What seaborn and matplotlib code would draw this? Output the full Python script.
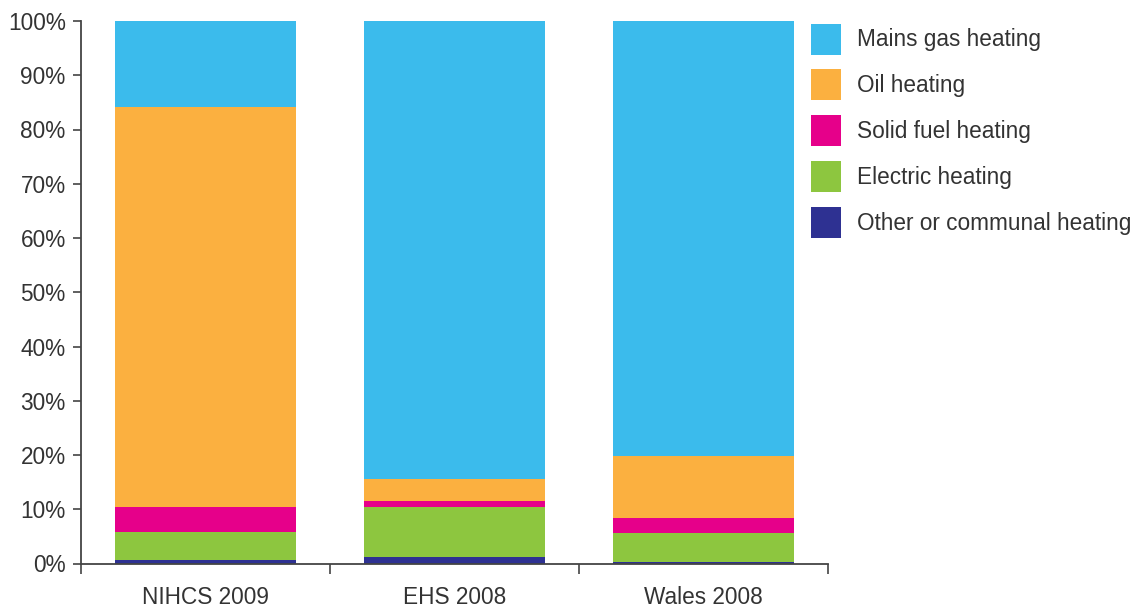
import numpy as np
import pandas as pd
import matplotlib
matplotlib.use("Agg")
import matplotlib.pyplot as plt
from matplotlib.patches import Patch
import seaborn as sns

surveys = ["NIHCS 2009", "EHS 2008", "Wales 2008"]
other = [0.65, 1.2, 0.3]
electric = [5.2, 9.2, 5.35]
solid_fuel = [4.6, 1.1, 2.8]
oil = [73.7, 4.1, 11.3]
mains_gas = [15.85, 84.4, 80.25]

series_names = ["Mains gas heating", "Oil heating", "Solid fuel heating",
                "Electric heating", "Other or communal heating"]
series_colors = ["#3BBBEC", "#FBB040", "#E6008A", "#8DC63F", "#2E3192"]

sns.set_theme(style="white")
plt.rcParams["font.family"] = ["Liberation Sans", "DejaVu Sans"]
text_color = "#333333"
fs = 16.3

# stack from the bottom up; draw tallest cumulative layer first
stack_bottom_up = [other, electric, solid_fuel, oil, mains_gas]
colors_bottom_up = series_colors[::-1]
cum = np.cumsum(np.array(stack_bottom_up), axis=0)

fig = plt.figure(figsize=(11.41, 6.14), dpi=100)
ax = fig.add_axes([81 / 1141, 1 - 563.5 / 614, (828 - 81) / 1141, (563.5 - 21) / 614])

for i in range(len(stack_bottom_up) - 1, -1, -1):
    df = pd.DataFrame({"survey": surveys, "value": cum[i]})
    sns.barplot(data=df, x="survey", y="value", color=colors_bottom_up[i],
                saturation=1, width=0.723, ax=ax, linewidth=0, errorbar=None)

ax.set_xlim(-0.5, 2.5)
ax.set_ylim(0, 100)
ax.set_xlabel("")
ax.set_ylabel("")
ax.set_yticks(np.arange(0, 101, 10))
ax.set_yticklabels([f"{v}%" for v in range(0, 101, 10)])
ax.set_xticks([-0.5, 0.5, 1.5, 2.5], minor=True)
ax.tick_params(axis="x", which="major", length=0, pad=16, labelsize=fs, colors=text_color)
ax.tick_params(axis="x", which="minor", length=7, width=1.2, color="#444444", direction="out", bottom=True)
ax.tick_params(axis="y", which="major", length=6, width=1.2, color="#444444", direction="out",
               left=True, pad=5, labelsize=fs, labelcolor=text_color)

for s in ["top", "right"]:
    ax.spines[s].set_visible(False)
for s in ["left", "bottom"]:
    ax.spines[s].set_color("#444444")
    ax.spines[s].set_linewidth(1.3)

handles = [Patch(facecolor=c, edgecolor="none") for c in series_colors]
fig.legend(handles, series_names, loc="upper left", bbox_to_anchor=(806 / 1141, 1 - 19 / 614),
           frameon=False, fontsize=fs, handlelength=1.36, handleheight=1.73,
           labelspacing=0.66, handletextpad=0.7, labelcolor=text_color, borderaxespad=0,
           borderpad=0.2)

fig.savefig("out.png", dpi=100)
